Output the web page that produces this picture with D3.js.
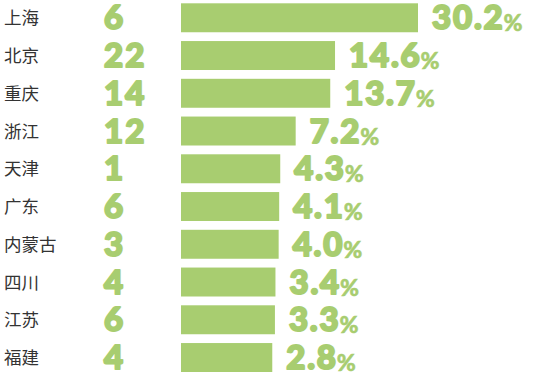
<!DOCTYPE html>
<html><head><meta charset="utf-8">
<script src="https://cdn.jsdelivr.net/npm/d3@7"></script>
<style>html,body{margin:0;padding:0;background:#fff;}svg{display:block;}</style>
</head><body>
<script>
const cities = ["上海","北京","重庆","浙江","天津","广东","内蒙古","四川","江苏","福建"];
const counts = [6,22,14,12,1,6,3,4,6,4];
const shares = [30.2,14.6,13.7,7.2,4.3,4.1,4.0,3.4,3.3,2.8];

const W = 541, H = 377, green = "#a8cd70";
const svg = d3.select("body").append("svg").attr("width", W).attr("height", H);

const y = d3.scaleBand().domain(cities).range([3.3, 372]).paddingInner(0.233).paddingOuter(0);
const barX0 = 181;
const x = d3.scaleLinear().domain([-14.36, 30.2]).range([barX0, 418]);

const rows = cities.map((c, i) => ({city: c, count: counts[i], share: shares[i]}));

const g = svg.selectAll("g.row").data(rows).join("g").attr("class", "row");

g.append("text")
  .attr("x", 4)
  .attr("y", d => y(d.city) + y.bandwidth()/2 + 6.5)
  .attr("font-family", "'Noto Sans CJK SC', sans-serif")
  .attr("font-size", 17.5)
  .attr("font-weight", 400)
  .attr("fill", "#333")
  .text(d => d.city);

g.append("text")
  .attr("x", 104)
  .attr("y", d => y(d.city) + y.bandwidth()/2 + 11.5)
  .attr("font-family", "Lato, sans-serif")
  .attr("font-size", 33)
  .attr("font-weight", 900)
  .attr("letter-spacing", 2)
  .attr("fill", green)
  .attr("stroke", green)
  .attr("stroke-width", 2)
  .attr("stroke-linejoin", "round")
  .text(d => d.count);

g.append("rect")
  .attr("x", barX0)
  .attr("y", d => y(d.city))
  .attr("width", d => x(d.share) - x(x.domain()[0]))
  .attr("height", y.bandwidth())
  .attr("fill", green);

const lab = g.append("text")
  .attr("x", d => x(d.share) + 14)
  .attr("y", d => y(d.city) + y.bandwidth()/2 + 11.5)
  .attr("font-family", "Lato, sans-serif")
  .attr("fill", green);
lab.append("tspan").attr("font-size", 33).attr("font-weight", 900).attr("letter-spacing", 1.8)
  .attr("stroke", green).attr("stroke-width", 2).attr("stroke-linejoin", "round")
  .text(d => d.share.toFixed(1));
lab.append("tspan").attr("font-size", 23).attr("font-weight", 900).attr("dy", 2).attr("dx", -1)
  .attr("stroke", green).attr("stroke-width", 0.5).text("%");
</script>
</body></html>
